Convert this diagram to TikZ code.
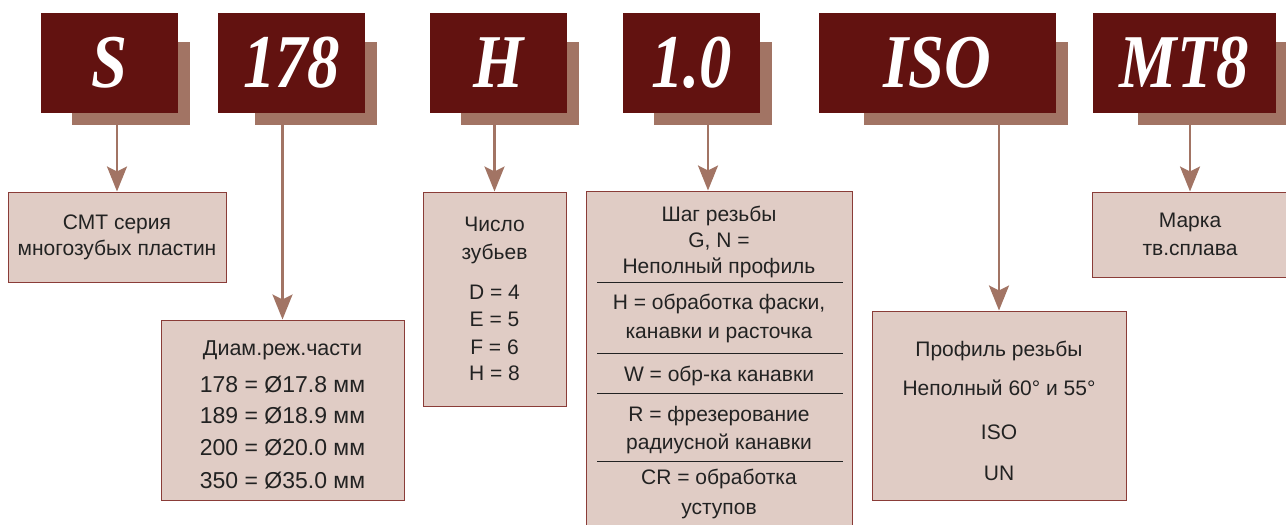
\documentclass[tikz,border=0pt]{standalone}
\usepackage{fontspec}
\setmainfont{Liberation Sans}
\newfontfamily\codefont[FakeStretch=0.85]{Liberation Serif}
\usetikzlibrary{arrows.meta,backgrounds}

\definecolor{codered}{HTML}{621210}
\definecolor{shadered}{HTML}{A27464}
\definecolor{boxfill}{HTML}{E0CCC5}
\definecolor{boxline}{HTML}{8A3C38}
\definecolor{textgray}{HTML}{222222}

\tikzset{
  codebox/.style={fill=codered, minimum height=100pt, inner sep=0pt, text=white,
    font=\codefont\bfseries\itshape\fontsize{76}{76}\selectfont},
  descbox/.style={draw=boxline, line width=1pt, fill=boxfill, inner sep=0pt,
    align=center, text=textgray, font=\fontsize{21}{26}\selectfont},
  desctext/.style={inner sep=0pt, align=center, text=textgray,
    font=\fontsize{21}{26}\selectfont},
  pointer/.style={draw=shadered, line width=2.7pt,
    -{Stealth[length=25pt,width=20pt,inset=5pt]}},
  sepline/.style={draw=textgray, line width=1pt},
}

\begin{document}
\begin{tikzpicture}[x=1pt,y=-1pt]
  \useasboundingbox (0,0) rectangle (1286,525);

  % code letters
  \node[codebox, minimum width=137pt] (s) at (109.5,63) {S};
  \node[codebox, minimum width=147pt] (dia) at (291.5,63) {178};
  \node[codebox, minimum width=137pt] (teeth) at (498.5,63) {H};
  \node[codebox, minimum width=137pt] (pitch) at (691.5,63) {1.0};
  \node[codebox, minimum width=237pt] (iso) at (937.5,63) {ISO};
  \node[codebox, minimum width=183pt] (grade) at (1184.5,63) {MT8};

  % shadows
  \begin{scope}[on background layer]
    \foreach \n/\d in {s/31,dia/37,teeth/31,pitch/31,iso/45,grade/45}
      \fill[shadered] ([xshift=\d pt,yshift=-29pt]\n.north west)
        rectangle ([xshift=12pt,yshift=-12pt]\n.south east);
  \end{scope}

  % descriptions
  \node[descbox, minimum width=218pt, minimum height=90pt] (sdesc) at (117,237)
    {СМТ серия\\многозубых пластин};
  \node[descbox, minimum width=243pt, minimum height=180pt] (diadesc) at (282.5,410) {};
  \node[desctext, font=\fontsize{23}{26}\selectfont] (diatext) at (282.5,414.5)
    {{\fontsize{21.5}{26}\selectfont Диам.реж.части}\\[11pt]178 = Ø17.8 мм\\[5pt]189 = Ø18.9 мм\\[6pt]200 = Ø20.0 мм\\[7pt]350 = Ø35.0 мм};
  \node[descbox, minimum width=143pt, minimum height=214pt] (teethdesc) at (494.5,299)
    {Число\\[2pt]зубьев\\[14pt]D = 4\\[1pt]E = 5\\[2pt]F = 6\\H = 8};
  \node[descbox, minimum width=266pt, minimum height=354pt] (pitchdesc) at (719,368) {};
  \node[descbox, minimum width=254pt, minimum height=189pt] (isodesc) at (999,405.5) {};
  \node[desctext] (isotext) at (999,411)
    {Профиль резьбы\\[13pt]Неполный 60° и 55°\\[18pt]ISO\\[15pt]UN};
  \node[descbox, minimum width=196pt, minimum height=85pt] (gradedesc) at (1190,234.5)
    {Марка\\[2pt]тв.сплава};

  % thread pitch box content
  \node[desctext] (p1) at (719,242) {Шаг резьбы\\G, N =\\Неполный профиль};
  \node[desctext] (p2) at (719,318) {H = обработка фаски,\\[3pt]канавки и расточка};
  \node[desctext] (p3) at (719,376) {W = обр-ка канавки};
  \node[desctext] (p4) at (719,430) {R = фрезерование\\[2pt]радиусной канавки};
  \node[desctext] (p5) at (719,494) {CR = обработка\\[4pt]уступов};
  \foreach \y in {282,353,393,461}
    \draw[sepline] (597,\y) -- (843,\y);

  % arrows
  \coordinate (pitchin) at ([xshift=-11pt]pitchdesc.north);
  \draw[pointer] (s.south -| sdesc.north) -- (sdesc.north);
  \draw[pointer] (dia.south -| diadesc.north) -- (diadesc.north);
  \draw[pointer] (teeth.south -| teethdesc.north) -- (teethdesc.north);
  \draw[pointer] (pitch.south -| pitchin) -- (pitchin);
  \draw[pointer] (iso.south -| isodesc.north) -- (isodesc.north);
  \draw[pointer] (grade.south -| gradedesc.north) -- (gradedesc.north);
\end{tikzpicture}
\end{document}
